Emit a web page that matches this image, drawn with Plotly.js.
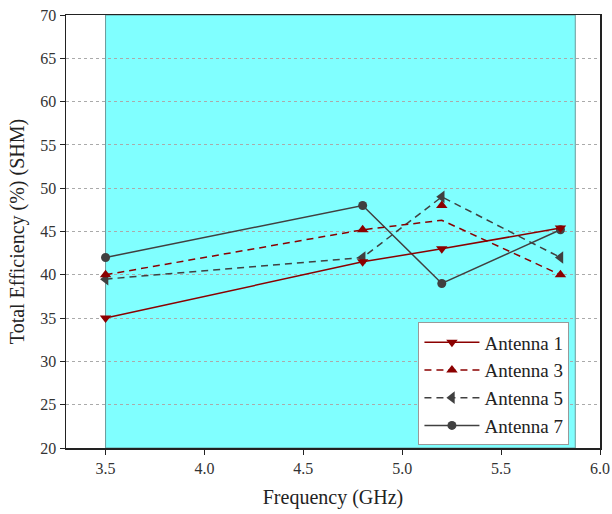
<!DOCTYPE html>
<html><head><meta charset="utf-8">
<script src="https://cdn.plot.ly/plotly-3.0.1.min.js"></script>
<style>html,body{margin:0;padding:0;background:#fff}</style>
</head><body>
<div id="chart" style="width:612px;height:514px"></div>
<script>
const freq = [3.5, 4.8, 5.2, 5.8];
const ant1 = [35, 41.5, 43, 45.4];
const ant3Line = [40, 45.2, 46.3, 40];
const ant3Marker = [40, 45.2, 48, 40];
const ant5 = [39.5, 42, 49, 42];
const ant7 = [42, 48, 39, 45.2];
const bandStart = 3.5, bandEnd = 5.875;
const xTicks = [3.5, 4.0, 4.5, 5.0, 5.5, 6.0];
const xTickText = ['3.5', '4.0', '4.5', '5.0', '5.5', '6.0'];
const yTicks = [20, 25, 30, 35, 40, 45, 50, 55, 60, 65, 70];

const red = '#8b0000', gray = '#404040';
const FAM = 'Liberation Serif';
const dash = '7px,5px';

const traces = [
  {x: freq, y: ant7, name: 'Antenna 7', legendrank: 4, mode: 'lines+markers',
   line: {color: gray, width: 1.5}, marker: {symbol: 'circle', size: 9, color: gray}},
  {x: freq, y: ant5, name: 'Antenna 5', legendrank: 3, mode: 'lines+markers',
   line: {color: gray, width: 1.5, dash: dash}, marker: {symbol: 'triangle-left', size: 11, color: gray}},
  {x: freq, y: ant3Line, mode: 'lines', showlegend: false, hoverinfo: 'skip',
   line: {color: red, width: 1.5, dash: dash}},
  {x: freq, y: ant3Marker, mode: 'markers', showlegend: false, hoverinfo: 'skip',
   marker: {symbol: 'triangle-up', size: 10, color: red}},
  {x: [null], y: [null], name: 'Antenna 3', legendrank: 2, mode: 'lines+markers',
   line: {color: red, width: 1.5, dash: dash}, marker: {symbol: 'triangle-up', size: 10, color: red}},
  {x: freq, y: ant1, name: 'Antenna 1', legendrank: 1, mode: 'lines+markers',
   line: {color: red, width: 1.5}, marker: {symbol: 'triangle-down', size: 10, color: red}}
];

const layout = {
  width: 612, height: 514,
  margin: {l: 66, r: 12, t: 15, b: 66},
  paper_bgcolor: '#fff', plot_bgcolor: '#fff',
  font: {family: FAM, color: '#222'},
  showlegend: true,
  legend: {x: 0.66, y: 0.29, xanchor: 'left', yanchor: 'top', traceorder: 'normal',
           bgcolor: '#fff', bordercolor: '#999', borderwidth: 1, itemwidth: 55,
           font: {family: FAM, size: 19, color: '#222'}, tracegroupgap: 0},
  xaxis: {range: [3.3, 6.0], tickvals: xTicks, ticktext: xTickText,
          ticks: 'outside', ticklen: 5, tickcolor: '#222',
          showline: true, linecolor: '#222', linewidth: 1.5, mirror: true,
          showgrid: false, zeroline: false,
          tickfont: {family: FAM, size: 16, color: '#333'},
          title: {text: 'Frequency (GHz)', font: {family: FAM, size: 20, color: '#222'}, standoff: 14}},
  yaxis: {range: [20, 70], tickvals: yTicks,
          ticks: 'outside', ticklen: 5, tickcolor: '#222',
          showline: true, linecolor: '#222', linewidth: 1.5, mirror: true,
          showgrid: true, gridcolor: '#aaa', griddash: 'dot', gridwidth: 1, zeroline: false,
          tickfont: {family: FAM, size: 16, color: '#333'},
          title: {text: 'Total Efficiency (%) (SHM)', font: {family: FAM, size: 20, color: '#222'}, standoff: 10}},
  shapes: [{type: 'rect', xref: 'x', yref: 'y', x0: bandStart, x1: bandEnd, y0: 20, y1: 70,
            fillcolor: '#80ffff', line: {color: '#6a9a9a', width: 1}, layer: 'below'}]
};

Plotly.newPlot('chart', traces, layout, {displayModeBar: false, staticPlot: true});
</script>
</body></html>
